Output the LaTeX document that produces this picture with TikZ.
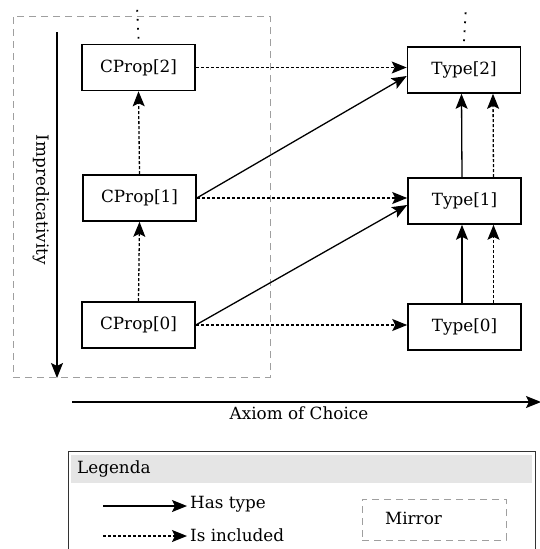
\documentclass[tikz,border=0pt]{standalone}
\usepackage{fontspec}
\setmainfont{DejaVu Serif}
\usetikzlibrary{arrows.meta}
\begin{document}
\begin{tikzpicture}[x=1pt,y=-1pt,
  txt/.style={font=\fontsize{16.8}{19}\selectfont, inner sep=0pt},
  box/.style={txt, draw, line width=1.6pt, minimum width=113pt, minimum height=46pt},
  tip/.style={-{Stealth[length=15pt,width=12pt,inset=3pt]}},
  hastype/.style={tip, line width=1.3pt},
  incl/.style={tip, line width=1.3pt, dash pattern=on 3pt off 2pt},
  vdots/.style={line width=1.8pt, dash pattern=on 1.8pt off 7.2pt},
  mirrorbox/.style={draw=gray!75, line width=1pt, dash pattern=on 7pt off 5pt},
]
\useasboundingbox (0,0) rectangle (540,549);

% mirror region
\node[mirrorbox, minimum width=257pt, minimum height=361pt, inner sep=0pt] (mirror) at (141.5,196.5) {};

% impredicativity axis
\coordinate (impS) at (57,32);
\coordinate (impE) at (57,378);
\draw[hastype] (impS) -- (impE);
\node[txt, rotate=-90] (implabel) at (41,200) {Impredicativity};

% nodes
\node[box] (cp2) at (138.5,67.5) {CProp[2]};
\node[box] (cp1) at (139.5,198) {CProp[1]};
\node[box] (cp0) at (138.5,325) {CProp[0]};
\node[box] (t2) at (464,70) {Type[2]};
\node[box] (t1) at (464.5,201) {Type[1]};
\node[box] (t0) at (464.5,327) {Type[0]};

% continuation dots
\coordinate (topL) at (137,6);
\coordinate (topR) at (466,6);
\draw[vdots] ([yshift=5pt]cp2.north) -- (topL);
\draw[vdots] ([yshift=5pt]t2.north) -- (topR);

% left column inclusions
\draw[incl] (cp1.north) -- (cp2.south);
\draw[incl] (cp0.north) -- (cp1.south);

% horizontal inclusions
\draw[incl] (cp2.east) -- (cp2.east -| t2.west);
\draw[incl] (cp1.east) -- (cp1.east -| t1.west);
\draw[incl] (cp0.east) -- (cp0.east -| t0.west);

% has type diagonals
\draw[hastype] (cp1.east) -- ([yshift=-6pt]t2.west);
\draw[hastype] (cp0.east) -- ([yshift=-4pt]t1.west);

% right column
\draw[hastype] ([xshift=-2.5pt]t1.north) -- ([xshift=-2.5pt]t2.south);
\draw[incl] ([xshift=29pt]t1.north) -- ([xshift=29pt]t2.south);
\draw[hastype] ([xshift=-2.5pt]t0.north) -- ([xshift=-2.5pt]t1.south);
\draw[incl] ([xshift=29pt]t0.north) -- ([xshift=29pt]t1.south);

% axiom of choice axis
\coordinate (acS) at (72,402);
\coordinate (acE) at (541,402);
\draw[hastype] (acS) -- (acE);
\node[txt] (aclabel) at (299,413) {Axiom of Choice};

% legend
\node[draw=black!80, line width=1pt, minimum width=467pt, minimum height=130pt, inner sep=0pt] (legend) at (301.5,516) {};
\node[fill=black!10, minimum width=461pt, minimum height=28pt, inner sep=0pt] (legendhead) at (301.5,469) {};
\node[txt, anchor=west] (legendtitle) at (77,469) {Legenda};
\coordinate (lgA) at (103,506);
\coordinate (lgB) at (187,506);
\coordinate (lgC) at (103,536);
\coordinate (lgD) at (187,536);
\draw[hastype] (lgA) -- (lgB);
\draw[incl] (lgC) -- (lgD);
\node[txt, anchor=west] (lghas) at (190,504) {Has type};
\node[txt, anchor=west] (lginc) at (190,535) {Is included};
\node[mirrorbox, minimum width=144pt, minimum height=41pt, inner sep=0pt] (lgmirror) at (434,519.5) {};
\node[txt] (lgmirrortxt) at (413.5,518) {Mirror};
\end{tikzpicture}
\end{document}
